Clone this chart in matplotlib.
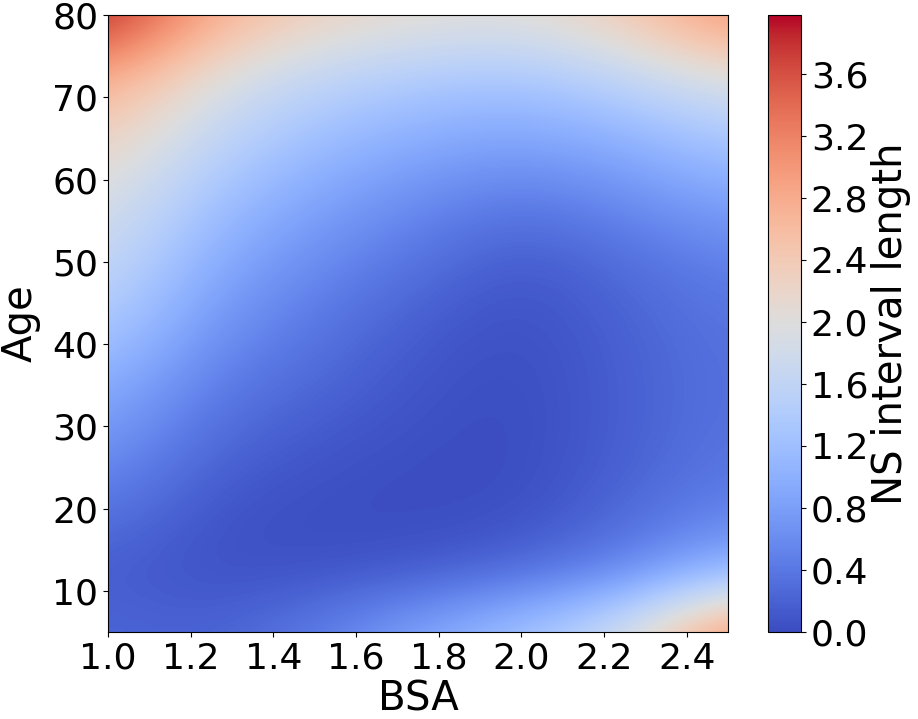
import numpy as np
import matplotlib
matplotlib.use("Agg")
import matplotlib.pyplot as plt

# grid nodes
bsa = np.array([1.0, 1.25, 1.5, 1.75, 2.0, 2.25, 2.5])
age = np.array([5, 12.5, 20, 27.5, 35, 42.5, 50, 57.5, 65, 72.5, 80])

# NS interval length, one row per age (bottom -> top), one column per BSA
ns_len = np.array([
    [0.25, 0.20, 0.45, 0.90, 1.30, 1.85, 3.25],   # 5
    [0.15, 0.05, 0.05, 0.10, 0.25, 0.50, 1.05],   # 12.5
    [0.40, 0.08, 0.02, 0.00, 0.02, 0.25, 0.50],   # 20
    [0.70, 0.25, 0.10, 0.03, 0.00, 0.18, 0.38],   # 27.5
    [1.00, 0.45, 0.25, 0.08, 0.00, 0.18, 0.35],   # 35
    [1.40, 0.70, 0.40, 0.15, 0.03, 0.20, 0.38],   # 42.5
    [1.70, 0.95, 0.60, 0.35, 0.10, 0.30, 0.50],   # 50
    [1.95, 1.25, 0.85, 0.60, 0.40, 0.60, 0.85],   # 57.5
    [2.30, 1.60, 1.20, 0.95, 0.85, 1.00, 1.35],   # 65
    [2.85, 2.00, 1.60, 1.40, 1.30, 1.60, 2.00],   # 72.5
    [3.98, 2.80, 2.30, 2.10, 2.05, 2.40, 3.10],   # 80
])

cbar_ticks = np.arange(0.0, 3.61, 0.4)

fig = plt.figure(figsize=(9.18, 7.19), dpi=100)
ax = fig.add_axes([108 / 918, 87 / 719, 620 / 918, 617 / 719])
cax = fig.add_axes([768 / 918, 87 / 719, 33 / 918, 617 / 719])

# put grid nodes on the cell centres, then clip to the data range
dx = (bsa[1] - bsa[0]) / 2
dy = (age[1] - age[0]) / 2
im = ax.imshow(ns_len, origin="lower", cmap="coolwarm", aspect="auto",
               interpolation="bicubic", vmin=0, vmax=ns_len.max(),
               extent=[bsa[0] - dx, bsa[-1] + dx, age[0] - dy, age[-1] + dy])
ax.set_xlim(bsa[0], bsa[-1])
ax.set_ylim(age[0], age[-1])

ax.set_xticks(np.arange(1.0, 2.51, 0.2))
ax.set_yticks(np.arange(10, 81, 10))
ax.tick_params(labelsize=26)
ax.set_xlabel("BSA", fontsize=29, labelpad=3)
ax.set_ylabel("Age", fontsize=29, labelpad=8)

cb = fig.colorbar(im, cax=cax, ticks=cbar_ticks)
cb.ax.tick_params(labelsize=26)
cb.set_label("NS interval length", fontsize=29, labelpad=2)

fig.savefig("out.png", dpi=100)
